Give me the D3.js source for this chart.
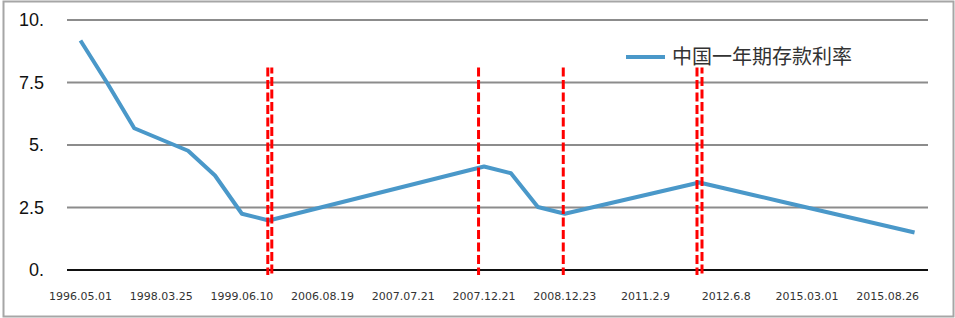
<!DOCTYPE html>
<html>
<head>
<meta charset="utf-8">
<script src="https://cdn.jsdelivr.net/npm/d3@7"></script>
<style>
  body { margin: 0; background: #fff; }
  svg { display: block; }
</style>
</head>
<body>
<svg id="chart"></svg>
<script>
// one-year deposit rate changes (date label, rate %)
const dates = [
  "1996.05.01", "1996.08.23", "1997.10.23", "1998.03.25", "1998.07.01", "1998.12.07",
  "1999.06.10", "2002.02.21", "2004.10.29", "2006.08.19", "2007.03.18", "2007.05.19",
  "2007.07.21", "2007.08.22", "2007.09.15", "2007.12.21", "2008.10.09", "2008.11.27",
  "2008.12.23", "2010.10.20", "2010.12.26", "2011.2.9", "2011.04.06", "2011.07.07",
  "2012.6.8", "2012.07.06", "2014.11.22", "2015.03.01", "2015.05.11", "2015.06.28",
  "2015.08.26", "2015.10.24"
];
const rates = [
  9.18, 7.47, 5.67, 5.22, 4.77, 3.78,
  2.25, 1.98, 2.25, 2.52, 2.79, 3.06,
  3.33, 3.60, 3.87, 4.14, 3.87, 2.52,
  2.25, 2.50, 2.75, 3.00, 3.25, 3.50,
  3.25, 3.00, 2.75, 2.50, 2.25, 2.00,
  1.75, 1.50
];
const yTicks = [0, 2.5, 5, 7.5, 10];
const yTickLabels = ["0.", "2.5", "5.", "7.5", "10."];
const seriesName = "中国一年期存款利率";
// dates marked with red dashed lines
const markDates = ["2002.02.21", "2007.12.21", "2008.12.23", "2011.07.07"];

const width = 955, height = 318;
const margin = {top: 20, right: 27, bottom: 48, left: 67};

const svg = d3.select("#chart")
    .attr("width", width)
    .attr("height", height);

// outer frame
svg.append("rect")
    .attr("x", 3.5).attr("y", 1.5)
    .attr("width", width - 5).attr("height", height - 3)
    .attr("fill", "#fff")
    .attr("stroke", "#a6a6a6")
    .attr("stroke-width", 2);

const x = d3.scalePoint()
    .domain(dates)
    .range([margin.left, width - margin.right])
    .padding(0.5);

const y = d3.scaleLinear()
    .domain([0, 10])
    .range([height - margin.bottom, margin.top]);

// gridlines
svg.append("g")
    .selectAll("line")
    .data(yTicks)
    .join("line")
    .attr("x1", margin.left)
    .attr("x2", width - margin.right)
    .attr("y1", d => y(d))
    .attr("y2", d => y(d))
    .attr("stroke", d => d === 0 ? "#111" : "#8c8c8c")
    .attr("stroke-width", 2);

// y labels
svg.append("g")
    .selectAll("text")
    .data(yTicks)
    .join("text")
    .attr("x", 44)
    .attr("y", d => y(d))
    .attr("dy", "0.36em")
    .attr("text-anchor", "end")
    .attr("font-family", "Liberation Sans, Arial, sans-serif")
    .attr("font-size", 18)
    .attr("fill", "#111")
    .text((d, i) => yTickLabels[i]);

// x labels, every third category
svg.append("g")
    .selectAll("text")
    .data(dates.filter((d, i) => i % 3 === 0))
    .join("text")
    .attr("x", d => x(d))
    .attr("y", 300)
    .attr("text-anchor", "middle")
    .attr("font-family", "DejaVu Sans, sans-serif")
    .attr("font-size", 11)
    .attr("fill", "#333")
    .text(d => d);

// series line
const line = d3.line()
    .x((d, i) => x(dates[i]))
    .y(d => y(d));

svg.append("path")
    .datum(rates)
    .attr("d", line)
    .attr("fill", "none")
    .attr("stroke", "#4a98c9")
    .attr("stroke-width", 4)
    .attr("stroke-linejoin", "round");

// red dashed markers (drawn twice, slightly apart, like the hand-drawn original)
const markShift = [[-1, 3], [-5.5], [-1.5], [-2.3, 2.7]];
const markG = svg.append("g");
markDates.forEach((d, k) => {
    markShift[k].forEach((s, j) => {
        markG.append("line")
            .attr("x1", x(d) + s)
            .attr("x2", x(d) + s)
            .attr("y1", y(8.1))
            .attr("y2", y(0) + 5)
            .attr("stroke", "#ff0000")
            .attr("stroke-width", 3)
            .attr("stroke-dasharray", "9,3.5")
            .attr("stroke-dashoffset", j * 3);
    });
});

// legend
const legend = svg.append("g").attr("transform", "translate(626,57)");
legend.append("line")
    .attr("x1", 0).attr("x2", 39)
    .attr("y1", 0).attr("y2", 0)
    .attr("stroke", "#4a98c9")
    .attr("stroke-width", 4);
legend.append("text")
    .attr("x", 46)
    .attr("y", 0)
    .attr("dy", "0.35em")
    .attr("font-family", "Noto Sans CJK SC, sans-serif")
    .attr("font-size", 20)
    .attr("fill", "#333")
    .text(seriesName);
</script>
</body>
</html>
